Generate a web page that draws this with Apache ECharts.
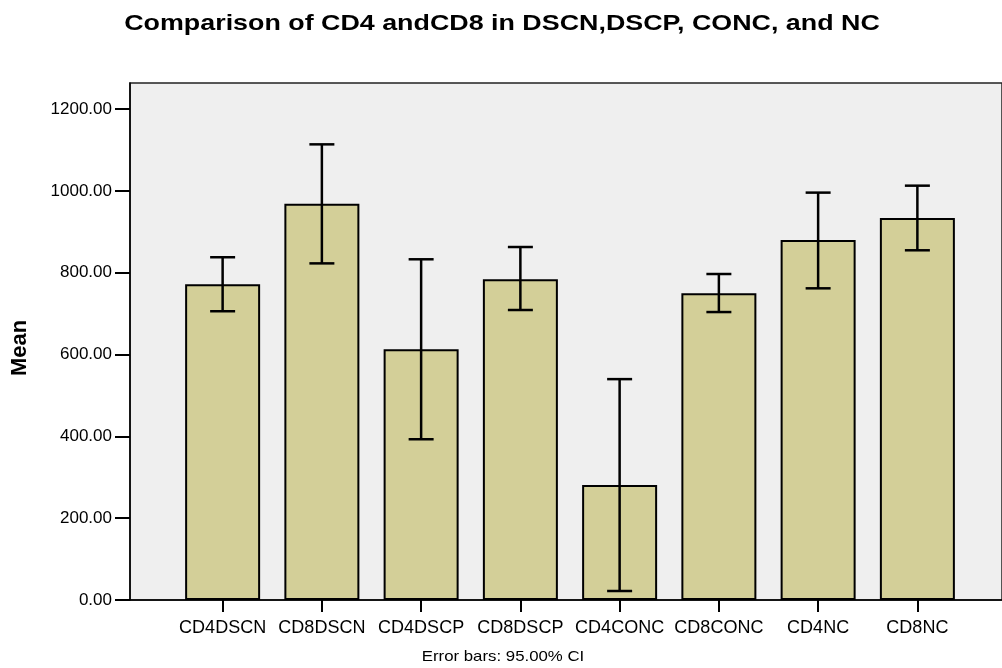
<!DOCTYPE html>
<html>
<head>
<meta charset="utf-8">
<script src="https://cdn.jsdelivr.net/npm/echarts@6/dist/echarts.min.js"></script>
<style>
    html, body { margin: 0; padding: 0; background: #fff; }
    #chart { width: 1002px; height: 668px; }
</style>
</head>
<body>
<div id="chart"></div>
<script>
    // values
    const categories = ['CD4DSCN', 'CD8DSCN', 'CD4DSCP', 'CD8DSCP', 'CD4CONC', 'CD8CONC', 'CD4NC', 'CD8NC']
    const means = [772, 969, 613, 784, 281, 750, 880, 934]
    const ciLow = [706, 823, 393, 709, 22, 704, 762, 855]
    const ciHigh = [838, 1114, 833, 863, 540, 797, 996, 1013]
    const yTicks = [0, 200, 400, 600, 800, 1000, 1200]
    const yMax = 1264

    const font = 'Liberation Sans, Arial, sans-serif'
    let errData = categories.map((c, i) => [i, ciLow[i], ciHigh[i]])

    const renderErr = (params, api) => {
        let lo = api.coord([api.value(0), api.value(1)])
        let hi = api.coord([api.value(0), api.value(2)])
        let half = 12.5
        let style = { stroke: '#000', lineWidth: 2.5 }
        return {
            type: 'group',
            children: [
                { type: 'line', shape: { x1: hi[0], y1: hi[1], x2: lo[0], y2: lo[1] }, style: style },
                { type: 'line', shape: { x1: hi[0] - half, y1: hi[1], x2: hi[0] + half, y2: hi[1] }, style: style },
                { type: 'line', shape: { x1: lo[0] - half, y1: lo[1], x2: lo[0] + half, y2: lo[1] }, style: style }
            ]
        }
    }

    let option = {
        animation: false,
        textStyle: { fontFamily: font },
        // SPSS output is stretched sideways, so the big texts get a scaleX
        graphic: [{
            type: 'text',
            x: 502,
            y: 24,
            scaleX: 1.22,
            style: {
                text: 'Comparison of CD4 andCD8 in DSCN,DSCP, CONC, and NC',
                font: 'bold 22px ' + font,
                fill: '#000',
                align: 'center',
                verticalAlign: 'middle'
            }
        }, {
            type: 'text',
            x: 20,
            y: 348,
            rotation: Math.PI / 2,
            style: {
                text: 'Mean',
                font: 'bold 22px ' + font,
                fill: '#000',
                align: 'center',
                verticalAlign: 'middle'
            }
        }, {
            type: 'text',
            x: 503,
            y: 657,
            scaleX: 1.12,
            style: {
                text: 'Error bars: 95.00% CI',
                font: '15px ' + font,
                fill: '#000',
                align: 'center',
                verticalAlign: 'middle'
            }
        }],
        grid: [{ // frame + value axis
            show: true,
            left: 130,
            right: -8,
            top: 83,
            bottom: 68,
            backgroundColor: '#efefef',
            borderColor: '#222',
            borderWidth: 1.5
        }, { // bars
            left: 173,
            width: 794,
            top: 83,
            bottom: 68
        }],
        xAxis: [{
            gridIndex: 0,
            type: 'value',
            min: 0,
            max: 1,
            axisLine: { show: true, onZero: false, lineStyle: { color: '#000', width: 1.5 } },
            axisTick: { show: false },
            axisLabel: { show: false },
            splitLine: { show: false }
        }, {
            gridIndex: 1,
            type: 'category',
            data: categories,
            axisLine: { show: false },
            axisTick: { show: true, alignWithLabel: true, length: 12, lineStyle: { color: '#000', width: 2 } },
            axisLabel: { color: '#000', fontSize: 18, margin: 19, interval: 0, fontFamily: font },
            splitLine: { show: false }
        }],
        yAxis: [{
            gridIndex: 0,
            type: 'value',
            min: 0,
            max: yMax,
            axisLine: { show: true, lineStyle: { color: '#000', width: 1.5 } },
            axisTick: { show: true, length: 15, customValues: yTicks, lineStyle: { color: '#000', width: 2 } },
            axisLabel: {
                color: '#000',
                fontSize: 17,
                margin: 18,
                customValues: yTicks,
                formatter: v => v.toFixed(2)
            },
            splitLine: { show: false }
        }, {
            gridIndex: 1,
            type: 'value',
            min: 0,
            max: yMax,
            show: false
        }],
        series: [{
            type: 'bar',
            xAxisIndex: 1,
            yAxisIndex: 1,
            barWidth: 75,
            itemStyle: { color: '#d3cf98', borderColor: '#000', borderWidth: 2 },
            data: means
        }, {
            type: 'custom',
            xAxisIndex: 1,
            yAxisIndex: 1,
            renderItem: renderErr,
            encode: { x: 0, y: [1, 2] },
            data: errData,
            z: 5
        }]
    }

    let EC = echarts.init(document.getElementById('chart'))
    EC.setOption(option)
</script>
</body>
</html>
